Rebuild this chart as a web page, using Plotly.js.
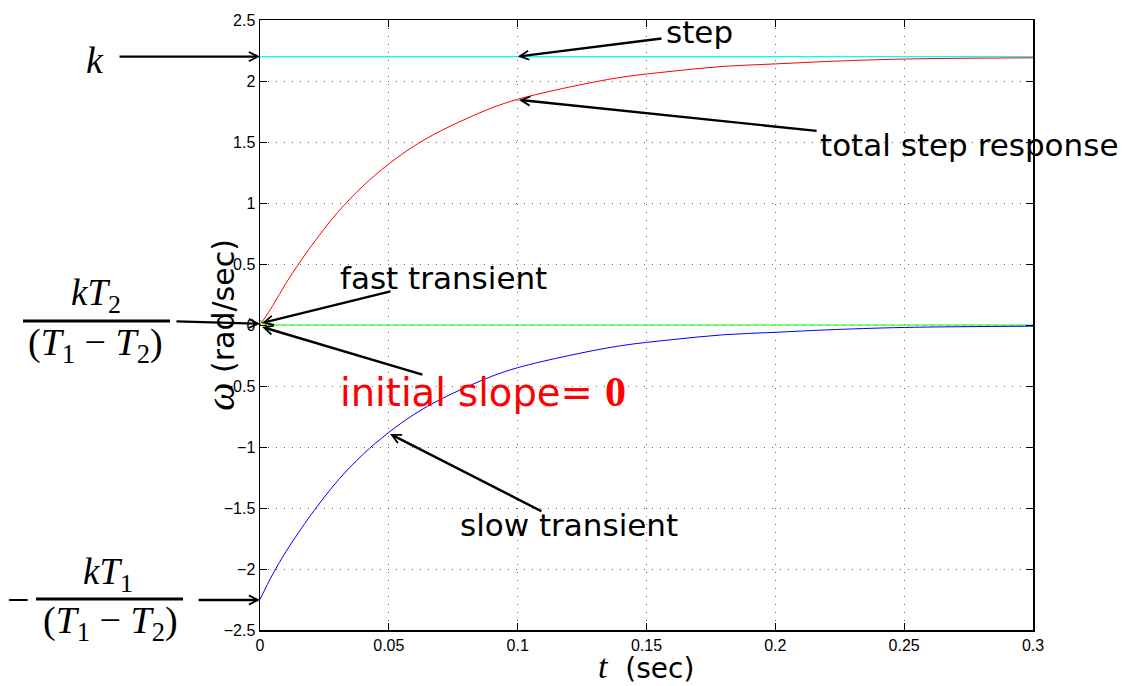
<!DOCTYPE html>
<html>
<head>
<meta charset="utf-8">
<script src="https://cdn.plot.ly/plotly-3.0.1.min.js"></script>
<style>html,body{margin:0;padding:0;background:#fff;}#chart{width:1141px;height:686px;}</style>
</head>
<body>
<div id="chart"></div>
<script>
// time samples (sec)
const tCurve = [0, 0.005, 0.01, 0.015, 0.02, 0.03, 0.04, 0.05, 0.06, 0.07, 0.08, 0.09, 0.1, 0.12, 0.14, 0.16, 0.18, 0.2, 0.22, 0.25, 0.3];
// slow transient (rad/sec)
const slowVals = [-2.25, -2.04, -1.86, -1.70, -1.55, -1.28, -1.06, -0.88, -0.73, -0.61, -0.51, -0.42, -0.35, -0.25, -0.17, -0.12, -0.08, -0.06, -0.04, -0.02, -0.01];
// total step response (rad/sec)
const totalVals = [0, 0.16, 0.34, 0.50, 0.65, 0.92, 1.14, 1.32, 1.47, 1.59, 1.69, 1.78, 1.85, 1.95, 2.03, 2.08, 2.12, 2.14, 2.16, 2.18, 2.19];
// fast transient
const tFast = [0, 0.001, 0.002, 0.005, 0.3];
const fastVals = [0.04, 0.015, 0.005, 0, 0];
// step input
const tStep = [0, 0.3];
const stepVals = [2.2, 2.2];
// ticks
const xTicks = [0, 0.05, 0.1, 0.15, 0.2, 0.25, 0.3];
const xTickLabels = ['0', '0.05', '0.1', '0.15', '0.2', '0.25', '0.3'];
const yTicks = [-2.5, -2, -1.5, -1, -0.5, 0, 0.5, 1, 1.5, 2, 2.5];
const yTickLabels = ['\u22122.5', '\u22122', '\u22121.5', '\u22121', '\u22120.5', '0', '0.5', '1', '1.5', '2', '2.5'];

const traces = [
  {x: tStep, y: stepVals, mode: 'lines', line: {color: '#00ffff', width: 1.2}},
  {x: tFast, y: fastVals, mode: 'lines', line: {color: '#00ff00', width: 1.2}},
  {x: tCurve, y: slowVals, mode: 'lines', line: {color: '#0000ff', width: 1, shape: 'spline'}},
  {x: tCurve, y: totalVals, mode: 'lines', line: {color: '#ff0000', width: 1, shape: 'spline'}}
];

const sans = 'DejaVu Sans, sans-serif';
const serif = 'Liberation Serif, DejaVu Serif, serif';

function arrow(x, y, ax, ay) {
  return {x: x, y: y, ax: ax, ay: ay, xref: 'x', yref: 'y', axref: 'x', ayref: 'y',
    text: '', showarrow: true, arrowhead: 5, arrowsize: 0.75, arrowwidth: 2.4, arrowcolor: '#000', standoff: 0};
}
function label(text, x, y, size, color, xanchor, family) {
  return {x: x, y: y, xref: 'paper', yref: 'paper', text: text, showarrow: false,
    xanchor: xanchor || 'left', yanchor: 'middle', font: {family: family || sans, size: size, color: color || '#000'}};
}

const annotations = [
  arrow(0.1, 2.2, 0.1564, 2.35),
  arrow(0.1005, 1.845, 0.2166, 1.59),
  arrow(0.0008, 0.016, 0.0512, 0.279),
  arrow(0.0008, -0.016, 0.0636, -0.41),
  arrow(0.0505, -0.893, 0.1098, -1.533),
  arrow(0, 2.2, -0.0551, 2.2),
  arrow(0, 0.01, -0.033, 0.03),
  arrow(0, -2.254, -0.0244, -2.254),
  label('step', 0.523, 0.980, 31),
  label('total step response', 0.722, 0.795, 31),
  label('fast transient', 0.101, 0.577, 31),
  label('slow transient', 0.256, 0.172, 31),
  label('initial slope= <span style="font-family:Liberation Serif;font-weight:bold;font-size:42px">0</span>', 0.101, 0.390, 38.5, '#ff0000'),
  label('<i>k</i>', -0.2135, 0.934, 38, '#000', 'center', serif),
  label('<i>kT</i><sub>2</sub>', -0.2122, 0.548, 37, '#000', 'center', serif),
  label('(<i>T</i><sub>1</sub> \u2212 <i>T</i><sub>2</sub>)', -0.2122, 0.467, 38, '#000', 'center', serif),
  label('\u2212', -0.313, 0.050, 40, '#000', 'center', serif),
  label('<i>kT</i><sub>1</sub>', -0.1966, 0.091, 37, '#000', 'center', serif),
  label('(<i>T</i><sub>1</sub> \u2212 <i>T</i><sub>2</sub>)', -0.194, 0.011, 38, '#000', 'center', serif),
  {x: 0.4994, y: -0.060, xref: 'paper', yref: 'paper', showarrow: false, xanchor: 'center', yanchor: 'middle',
    text: '<span style="font-family:Liberation Serif;font-style:italic;font-size:34px">t</span>  (sec)', font: {family: sans, size: 28, color: '#000'}},
  {x: -0.052, y: 0.5, xref: 'paper', yref: 'paper', showarrow: false, xanchor: 'center', yanchor: 'middle', textangle: -90,
    text: '<span style="font-family:Liberation Serif;font-style:italic;font-size:40px">\u03c9</span> (rad/sec)', font: {family: sans, size: 30, color: '#000'}}
];

const shapes = [
  {type: 'line', xref: 'paper', yref: 'paper', x0: -0.3066, x1: -0.1164, y0: 0.5066, y1: 0.5066, line: {color: '#000', width: 3}},
  {type: 'line', xref: 'paper', yref: 'paper', x0: -0.2898, x1: -0.0996, y0: 0.0508, y1: 0.0508, line: {color: '#000', width: 3}}
];

const axisCommon = {
  showline: true, linecolor: '#000', linewidth: 1.5, mirror: 'ticks',
  ticks: 'inside', ticklen: 7, tickcolor: '#000', tickwidth: 1,
  showgrid: true, gridcolor: 'rgba(0,0,0,0.6)', gridwidth: 1, griddash: '1px,7px',
  zeroline: false, tickfont: {family: 'Liberation Sans, Arial, sans-serif', size: 16, color: '#000'}
};

const layout = {
  width: 1141, height: 686,
  margin: {l: 260, r: 108, t: 20, b: 56},
  paper_bgcolor: '#fff', plot_bgcolor: '#fff',
  showlegend: false,
  xaxis: Object.assign({}, axisCommon, {range: [0, 0.3], tickvals: xTicks, ticktext: xTickLabels}),
  yaxis: Object.assign({}, axisCommon, {range: [-2.5, 2.5], tickvals: yTicks, ticktext: yTickLabels}),
  annotations: annotations,
  shapes: shapes
};

Plotly.newPlot('chart', traces, layout, {staticPlot: true, displayModeBar: false});
</script>
</body>
</html>
